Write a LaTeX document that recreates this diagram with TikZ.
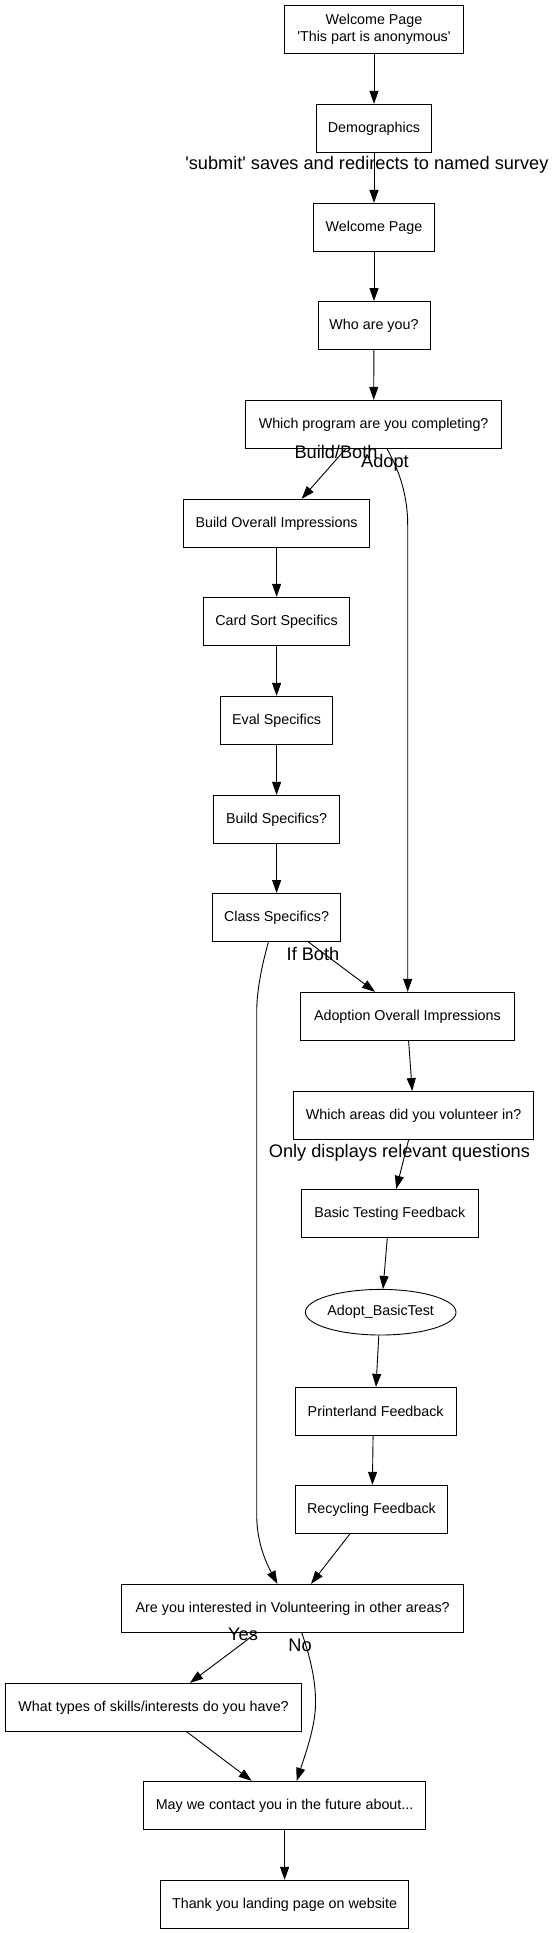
\documentclass[tikz,border=0pt]{standalone}
\usepackage{fontspec}
\newfontfamily\gv{Liberation Sans}
\usetikzlibrary{arrows.meta,shapes.geometric}
\begin{document}
\begin{tikzpicture}[x=1pt,y=-1pt,
 box/.style={draw, line width=0.9pt, minimum height=48pt, inner sep=0pt, align=center, font=\gv\fontsize{14.3}{16.7}\selectfont},
 elab/.style={inner sep=0pt, anchor=base, font=\gv\fontsize{18.2}{20}\selectfont},
 edge/.style={line width=0.9pt, -{Triangle[length=13pt,width=9pt]}},
]
\useasboundingbox (0,0) rectangle (557,1933);

\node[box, minimum width=179.5pt] (w1) at (374,29.3) {Welcome Page\\'This part is anonymous'};
\node[box, minimum width=115.2pt] (demo) at (374,128.3) {Demographics};
\node[box, minimum width=120.2pt] (w2) at (374,227.3) {Welcome Page};
\node[box, minimum width=112pt] (who) at (374,325.5) {Who are you?};
\node[box, minimum width=255.9pt] (prog) at (373.6,424.3) {Which program are you completing?};
\node[box, minimum width=186.6pt] (boi) at (276.6,523.3) {Build Overall Impressions};
\node[box, minimum width=146.1pt] (card) at (276.6,621.3) {Card Sort Specifics};
\node[box, minimum width=112.3pt] (eval) at (276.6,720.3) {Eval Specifics};
\node[box, minimum width=125.8pt] (bspec) at (276.6,819.3) {Build Specifics?};
\node[box, minimum width=128pt] (cspec) at (276.6,917.5) {Class Specifics?};
\node[box, minimum width=213.3pt] (aoi) at (407.4,1016.3) {Adoption Overall Impressions};
\node[box, minimum width=239.9pt] (areas) at (413.6,1115.5) {Which areas did you volunteer in?};
\node[box, minimum width=176.6pt] (basic) at (389.8,1213.3) {Basic Testing Feedback};
\node[box, ellipse, minimum width=140.2pt, minimum height=45.6pt] (abt) at (380.7,1312.2) {Adopt\_BasicTest};
\node[box, minimum width=160.7pt] (print) at (375.7,1411.3) {Printerland Feedback};
\node[box, minimum width=152.2pt] (recyc) at (371.5,1509.3) {Recycling Feedback};
\node[box, minimum width=342.3pt] (interest) at (292.7,1608.3) {Are you interested in Volunteering in other areas?};
\node[box, minimum width=296.5pt] (skills) at (153.6,1707.3) {What types of skills/interests do you have?};
\node[box, minimum width=281.9pt] (contact) at (284.6,1805.3) {May we contact you in the future about...};
\node[box, minimum width=248.1pt] (thanks) at (284.6,1904.3) {Thank you landing page on website};

\draw[edge] (w1) -- (demo);
\draw[edge] (demo) -- (w2);
\draw[edge] (w2) -- (who);
\draw[edge] (who) -- (prog);
\draw[edge] ([xshift=-27.8pt]prog.south) -- ([xshift=25pt]boi.north);
\draw[edge] ([xshift=13.4pt]prog.south) .. controls (396,465) and (407.7,490) .. (407.7,525) -- ([xshift=0.3pt]aoi.north);
\draw[edge] (boi) -- (card);
\draw[edge] (card) -- (eval);
\draw[edge] (eval) -- (bspec);
\draw[edge] (bspec) -- (cspec);
\draw[edge] ([xshift=31.8pt]cspec.south) -- ([xshift=-32.4pt]aoi.north);
\draw[edge] ([xshift=-8.2pt]cspec.south) .. controls (262,965) and (256.7,990) .. (256.7,1012) -- (256.7,1515) .. controls (256.7,1545) and (268,1566) .. ([xshift=-15.4pt]interest.north);
\draw[edge] ([xshift=1.2pt]aoi.south) -- ([xshift=-1.4pt]areas.north);
\draw[edge] ([xshift=-5pt]areas.south) -- ([xshift=6.4pt]basic.north);
\draw[edge] ([xshift=-2.5pt]basic.south) -- ([xshift=2.3pt]abt.north);
\draw[edge] ([xshift=-1.9pt]abt.south) -- ([xshift=0.3pt]print.north);
\draw[edge] ([xshift=-2.6pt]print.south) -- ([xshift=0.9pt]recyc.north);
\draw[edge] ([xshift=-21.5pt]recyc.south) -- ([xshift=18.3pt]interest.north);
\draw[edge] ([xshift=-36pt]interest.south) -- ([xshift=36.4pt]skills.north);
\draw[edge] ([xshift=9pt]interest.south) .. controls (312,1662) and (316,1685) .. (315.5,1705) .. controls (315,1728) and (305,1755) .. ([xshift=12.1pt]contact.north);
\draw[edge] ([xshift=33.1pt]skills.south) -- ([xshift=-32.9pt]contact.north);
\draw[edge] (contact) -- (thanks);

\node[elab] (l1) at (366.9,169.5) {'submit' saves and redirects to named survey};
\node[elab] (l2) at (336,458.3) {Build/Both};
\node[elab] (l3) at (385,467) {Adopt};
\node[elab] (l4) at (313,960.7) {If Both};
\node[elab] (l5) at (399.4,1157) {Only displays relevant questions};
\node[elab] (l6) at (243,1640.7) {Yes};
\node[elab] (l7) at (300,1651.7) {No};
\end{tikzpicture}
\end{document}
